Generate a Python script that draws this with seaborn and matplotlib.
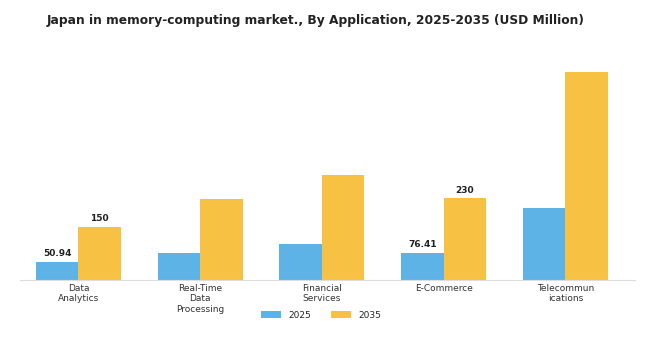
import matplotlib
matplotlib.use("Agg")
import matplotlib.pyplot as plt
import seaborn as sns
import pandas as pd

categories = ["Data\nAnalytics", "Real-Time\nData\nProcessing", "Financial\nServices", "E-Commerce", "Telecommun\nications"]
values_2025 = [50.94, 76.0, 102.0, 76.41, 204.0]
values_2035 = [150.0, 229.0, 297.0, 230.0, 587.0]
years = ["2025", "2035"]
labeled = {(0, "2025"): "50.94", (0, "2035"): "150", (3, "2025"): "76.41", (3, "2035"): "230"}

df = pd.DataFrame({
    "Application": categories * 2,
    "Year": [years[0]] * len(categories) + [years[1]] * len(categories),
    "Value": values_2025 + values_2035,
})

sns.set_theme(style="white")
plt.rcParams['font.family'] = ['DejaVu Sans']
fig = plt.figure(figsize=(6.55, 3.43), dpi=100)
ax = fig.add_axes([0.0305, 0.184, 0.9385, 0.64])
palette = {"2025": "#5DB3E6", "2035": "#F7C244"}
sns.barplot(data=df, x="Application", y="Value", hue="Year", palette=palette,
            width=0.7, ax=ax, saturation=1, legend=True, linewidth=0)

ax.set_xlim(-0.48, 4.57)
ax.set_ylim(0, 620)
ax.set_xlabel("")
ax.set_ylabel("")
ax.set_yticks([])
for s in ["top", "right", "left"]:
    ax.spines[s].set_visible(False)
ax.spines["bottom"].set_color("#dddddd")
ax.spines["bottom"].set_linewidth(0.8)
ax.tick_params(axis="x", labelsize=6.5, colors="#333333", length=0, pad=3)

for cont, yr in zip(ax.containers, years):
    for i, bar in enumerate(cont):
        if (i, yr) in labeled:
            ax.text(bar.get_x() + bar.get_width() / 2, bar.get_height() + 10,
                    labeled[(i, yr)], ha="center", va="bottom", fontsize=6.5,
                    fontweight="bold", color="#222222")

ax.legend(loc="center", bbox_to_anchor=(0.49, -0.16), ncol=2, frameon=False,
          fontsize=6.5, handlelength=2.2, handleheight=0.8, columnspacing=2.2,
          title=None)

fig.suptitle("Japan in memory-computing market., By Application, 2025-2035 (USD Million)",
             x=0.482, y=0.96, fontsize=8.8, fontweight="bold", color="#222222")

fig.savefig("out.png", dpi=100)
